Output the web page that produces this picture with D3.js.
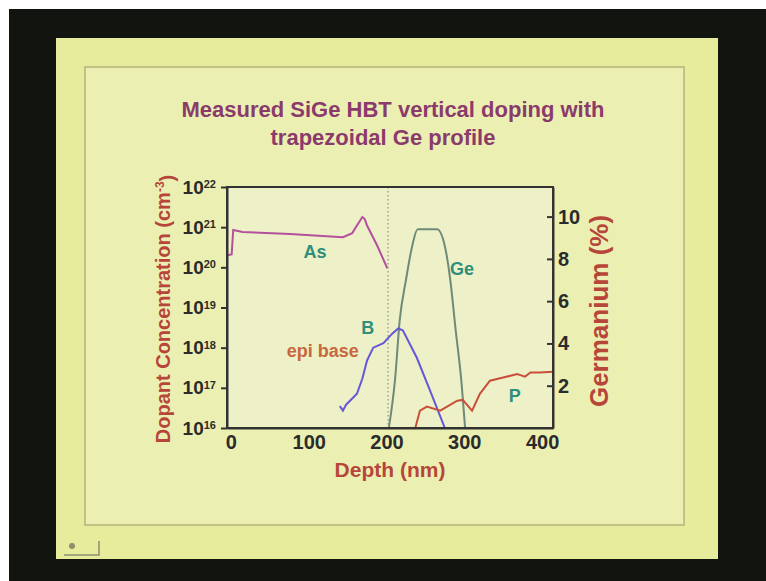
<!DOCTYPE html>
<html>
<head>
<meta charset="utf-8">
<script src="https://cdn.jsdelivr.net/npm/d3@7"></script>
<style>
  body { margin: 0; background: #ffffff; }
  text { font-family: "Liberation Sans", Arial, sans-serif; font-weight: bold; }
</style>
</head>
<body>
<script>
// depth (nm) and concentration (cm^-3)
var asDepth = [-5, 1, 3, 15, 76, 144, 156, 162, 169, 172, 175, 188, 201];
var asConc = [2.0e20, 2.1e20, 8.5e20, 7.6e20, 6.8e20, 5.6e20, 7.1e20, 1.1e21, 1.8e21, 1.6e21, 1.1e21, 3.5e20, 9.5e19];

var bDepth = [140, 144, 148, 156, 162, 169, 175, 183, 196, 207, 215, 221, 239, 256, 275];
var bConc = [3.5e16, 2.7e16, 3.8e16, 5.4e16, 7.1e16, 1.7e17, 4.8e17, 1.0e18, 1.3e18, 2.2e18, 3.0e18, 2.7e18, 5.6e17, 8.5e16, 1.0e16];

var pDepth = [237, 243, 252, 269, 291, 298, 310, 320, 333, 350, 368, 378, 385, 397, 414];
var pConc = [1.0e16, 2.7e16, 3.4e16, 2.7e16, 4.8e16, 5.0e16, 2.7e16, 7.1e16, 1.5e17, 1.8e17, 2.2e17, 1.9e17, 2.4e17, 2.4e17, 2.5e17];

// germanium percentage (right axis)
var geDepth = [203, 211, 217, 225, 233, 240, 265, 275, 282, 289, 296, 301];
var gePct = [0, 2.3, 5.1, 7.0, 8.6, 9.4, 9.4, 8.6, 7.0, 4.6, 2.3, 0];

// ticks
var xTicks = [0, 100, 200, 300, 400];
var concTicks = [1e16, 1e17, 1e18, 1e19, 1e20, 1e21, 1e22];
var geTicks = [2, 4, 6, 8, 10];
var epiEdge = 202;

// text labels on the curves: [text, depth, conc]
var curveLabels = [
  ["As", 108, 2.4e20],
  ["Ge", 297, 9.4e19],
  ["B", 176, 3.2e18],
  ["P", 365, 6.3e16]
];

var svgWidth = 766;
var svgHeight = 581;

var margin = { top: 187, left: 227 };
var chartWidth = 326;
var chartHeight = 241;

var svg = d3.select("body").append("svg")
  .attr("width", svgWidth)
  .attr("height", svgHeight);

// black frame of the photo, slide, and inner frame
svg.append("rect").attr("x", 9).attr("y", 9).attr("width", 757).attr("height", 572).attr("fill", "#121410");
svg.append("rect").attr("x", 56).attr("y", 38).attr("width", 662).attr("height", 521).attr("fill", "#e6ec9c");
svg.append("rect").attr("x", 85).attr("y", 67).attr("width", 599).attr("height", 458)
  .attr("fill", "#ebf0b2").attr("stroke", "#b3b57a").attr("stroke-width", 1.5);

// small action icon bottom-left
svg.append("circle").attr("cx", 72).attr("cy", 546).attr("r", 3).attr("fill", "#8d8e6c");
svg.append("path").attr("d", "M64,555 H99 V541").attr("fill", "none").attr("stroke", "#8d8e6c").attr("stroke-width", 1.5);

// title
var title = svg.append("text")
  .attr("text-anchor", "middle")
  .attr("fill", "#8b3a6c")
  .style("font-size", "22px");
title.append("tspan").attr("x", 393).attr("y", 117).text("Measured SiGe HBT vertical doping with");
title.append("tspan").attr("x", 383).attr("y", 145).text("trapezoidal Ge profile");

var chartGroup = svg.append("g")
  .attr("transform", `translate(${margin.left}, ${margin.top})`);

// scales
var xScale = d3.scaleLinear().domain([-5, 414]).range([0, chartWidth]);
var yConc = d3.scaleLog().domain([1e16, 1e22]).range([chartHeight, 0]);
var yGe = d3.scaleLinear().domain([0, 11.4]).range([chartHeight, 0]);

// plot area
chartGroup.append("rect")
  .attr("width", chartWidth)
  .attr("height", chartHeight)
  .attr("fill", "#eef1c8");

// dotted line at the epi base edge
chartGroup.append("line")
  .attr("x1", xScale(epiEdge)).attr("x2", xScale(epiEdge))
  .attr("y1", 0).attr("y2", chartHeight)
  .attr("stroke", "#7a7d70")
  .attr("stroke-width", 1)
  .attr("stroke-dasharray", "1.5,2.5");

var concLine = d3.line()
  .x(d => xScale(d[0]))
  .y(d => yConc(d[1]));

var geLine = d3.line()
  .x(d => xScale(d[0]))
  .y(d => yGe(d[1]))
  .curve(d3.curveMonotoneX);

chartGroup.append("clipPath").attr("id", "plotclip")
  .append("rect").attr("width", chartWidth).attr("height", chartHeight);

var curves = chartGroup.append("g").attr("clip-path", "url(#plotclip)");

curves.append("path")
  .datum(d3.zip(geDepth, gePct))
  .attr("d", geLine)
  .attr("fill", "none").attr("stroke", "#6e8a78").attr("stroke-width", 2);

curves.append("path")
  .datum(d3.zip(asDepth, asConc))
  .attr("d", concLine)
  .attr("fill", "none").attr("stroke", "#b4509d").attr("stroke-width", 2);

curves.append("path")
  .datum(d3.zip(bDepth, bConc))
  .attr("d", concLine)
  .attr("fill", "none").attr("stroke", "#6656d8").attr("stroke-width", 2);

curves.append("path")
  .datum(d3.zip(pDepth, pConc))
  .attr("d", concLine)
  .attr("fill", "none").attr("stroke", "#c8503a").attr("stroke-width", 2);

// curve labels
chartGroup.selectAll(".curveLabel")
  .data(curveLabels)
  .enter()
  .append("text")
  .attr("class", "curveLabel")
  .attr("x", d => xScale(d[1]))
  .attr("y", d => yConc(d[2]))
  .attr("dy", "0.35em")
  .attr("text-anchor", "middle")
  .attr("fill", "#2f8f7c")
  .style("font-size", "18px")
  .text(d => d[0]);

chartGroup.append("text")
  .attr("x", xScale(118))
  .attr("y", yConc(8.5e17))
  .attr("dy", "0.35em")
  .attr("text-anchor", "middle")
  .attr("fill", "#c8683e")
  .style("font-size", "18px")
  .text("epi base");

// box
chartGroup.append("rect")
  .attr("width", chartWidth)
  .attr("height", chartHeight)
  .attr("fill", "none")
  .attr("stroke", "#333")
  .attr("stroke-width", 2);

// axes
var leftAxis = d3.axisLeft(yConc).tickValues(concTicks).tickSizeInner(6).tickSizeOuter(0).tickPadding(5);
var rightAxis = d3.axisRight(yGe).tickValues(geTicks).tickSizeInner(-6).tickSizeOuter(0).tickPadding(5);
var bottomAxis = d3.axisBottom(xScale).tickValues(xTicks).tickSize(0).tickPadding(7);

var gLeft = chartGroup.append("g").call(leftAxis);
gLeft.selectAll(".tick text").each(function(d) {
  var t = d3.select(this).text(null).style("font-size", "19px");
  t.append("tspan").text("10");
  t.append("tspan").attr("dy", "-0.5em").style("font-size", "11px").text(Math.round(Math.log10(d)));
});

var gRight = chartGroup.append("g")
  .attr("transform", `translate(${chartWidth}, 0)`)
  .call(rightAxis);
gRight.selectAll(".tick text").style("font-size", "20px");

var gBottom = chartGroup.append("g")
  .attr("transform", `translate(0, ${chartHeight})`)
  .call(bottomAxis);
gBottom.selectAll(".tick text").style("font-size", "20px");

[gLeft, gRight, gBottom].forEach(function(g) {
  g.selectAll("path").attr("stroke", "#333").attr("stroke-width", 2);
  g.selectAll("line").attr("stroke", "#333").attr("stroke-width", 2);
  g.selectAll("text").attr("fill", "#2b2b2b").attr("font-family", null);
});

// axis titles
var yTitle = svg.append("text")
  .attr("transform", "translate(170, 309) rotate(-90)")
  .attr("text-anchor", "middle")
  .attr("fill", "#b7463a")
  .style("font-size", "20px");
yTitle.append("tspan").text("Dopant Concentration (cm");
yTitle.append("tspan").attr("dy", "-0.5em").style("font-size", "12px").text("-3");
yTitle.append("tspan").attr("dy", "0.5em").text(")");

svg.append("text")
  .attr("transform", "translate(608, 311) rotate(-90)")
  .attr("text-anchor", "middle")
  .attr("fill", "#b7463a")
  .style("font-size", "26px")
  .text("Germanium (%)");

svg.append("text")
  .attr("x", 390)
  .attr("y", 477)
  .attr("text-anchor", "middle")
  .attr("fill", "#b7463a")
  .style("font-size", "21px")
  .text("Depth (nm)");
</script>
</body>
</html>
